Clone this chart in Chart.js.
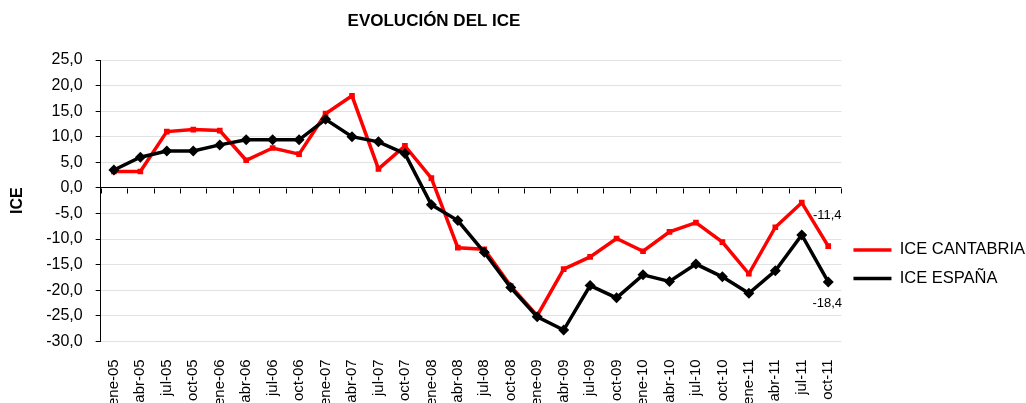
<!DOCTYPE html>
<html>
<head>
<meta charset="utf-8">
<script src="https://cdn.jsdelivr.net/npm/chart.js@4/dist/chart.umd.min.js"></script>
<style>
html, body { margin: 0; padding: 0; background: #fff; }
#wrap { width: 1026px; height: 403px; overflow: hidden; }
</style>
</head>
<body>
<div id="wrap"><canvas id="iceChart" width="1026" height="403"></canvas></div>
<script>
var quarters = ["ene-05", "abr-05", "jul-05", "oct-05", "ene-06", "abr-06", "jul-06", "oct-06",
    "ene-07", "abr-07", "jul-07", "oct-07", "ene-08", "abr-08", "jul-08", "oct-08",
    "ene-09", "abr-09", "jul-09", "oct-09", "ene-10", "abr-10", "jul-10", "oct-10",
    "ene-11", "abr-11", "jul-11", "oct-11"];
var iceCantabria = [3.2, 3.2, 11.0, 11.4, 11.2, 5.4, 7.8, 6.6, 14.5, 18.0, 3.7, 8.2,
    1.9, -11.7, -12.0, -19.2, -25.0, -15.9, -13.5, -9.9, -12.4, -8.6, -6.8, -10.6,
    -16.8, -7.7, -2.9, -11.4];
var iceEspana = [3.5, 6.0, 7.2, 7.2, 8.4, 9.4, 9.4, 9.4, 13.4, 10.0, 9.0, 6.7,
    -3.3, -6.4, -12.6, -19.5, -25.2, -27.8, -19.1, -21.5, -17.0, -18.3, -14.9, -17.4,
    -20.6, -16.2, -9.2, -18.4];
var yMin = -30;
var yMax = 25;
var yStep = 5;

var fontName = "'Liberation Sans', Arial, sans-serif";

function comma(v) {
    return v.toFixed(1).replace(".", ",");
}

// title drawn centred over the plot like the original sheet
var titlePlugin = {
    id: "sheetTitle",
    afterDraw: function (chart) {
        var ctx = chart.ctx;
        ctx.save();
        ctx.font = "bold 17px " + fontName;
        ctx.fillStyle = "#000";
        ctx.textAlign = "center";
        ctx.textBaseline = "middle";
        ctx.fillText("EVOLUCIÓN DEL ICE", 434, 21);
        ctx.restore();
    }
};

// small tick marks on the zero line, between categories
var zeroTicks = {
    id: "zeroTicks",
    beforeDatasetsDraw: function (chart) {
        var xs = chart.scales.x, ys = chart.scales.y, ctx = chart.ctx;
        var y0 = Math.round(ys.getPixelForValue(0)) + 0.5;
        var half = (xs.getPixelForValue(1) - xs.getPixelForValue(0)) / 2;
        ctx.save();
        ctx.strokeStyle = "#000";
        ctx.lineWidth = 1;
        for (var i = 0; i <= quarters.length; i++) {
            var x = Math.round(xs.getPixelForValue(i) - half) + 0.5;
            ctx.beginPath();
            ctx.moveTo(x, y0);
            ctx.lineTo(x, y0 + 5);
            ctx.stroke();
        }
        ctx.restore();
    }
};

// value labels on the last point of each series
var lastLabelOffset = [-31, 21];
var lastLabels = {
    id: "lastLabels",
    afterDatasetsDraw: function (chart) {
        var ctx = chart.ctx;
        ctx.save();
        ctx.font = "13px " + fontName;
        ctx.fillStyle = "#000";
        ctx.textAlign = "center";
        ctx.textBaseline = "middle";
        chart.data.datasets.forEach(function (ds, i) {
            var pts = chart.getDatasetMeta(i).data;
            var p = pts[pts.length - 1];
            ctx.fillText(comma(ds.data[ds.data.length - 1]), p.x - 1, p.y + lastLabelOffset[i]);
        });
        ctx.restore();
    }
};

var ctx = document.getElementById("iceChart").getContext("2d");
var iceChart = new Chart(ctx, {
    type: "line",
    data: {
        labels: quarters,
        datasets: [
            {
                label: "ICE CANTABRIA",
                data: iceCantabria,
                borderColor: "#ff0000",
                backgroundColor: "#ff0000",
                borderWidth: 3.5,
                pointStyle: "rect",
                pointRadius: 4,
                pointBorderWidth: 0,
                tension: 0,
                order: 2
            },
            {
                label: "ICE ESPAÑA",
                data: iceEspana,
                borderColor: "#000000",
                backgroundColor: "#000000",
                borderWidth: 3.5,
                pointStyle: "rectRot",
                pointRadius: 5.5,
                pointBorderWidth: 0,
                tension: 0,
                order: 1
            }
        ]
    },
    options: {
        responsive: false,
        animation: false,
        layout: {
            padding: { top: 60, left: 0, right: -9, bottom: -21 }
        },
        plugins: {
            title: { display: false },
            tooltip: { enabled: false },
            legend: {
                position: "right",
                title: {
                    display: true,
                    text: "",
                    font: { size: 12 },
                    padding: { top: 30, bottom: 0 }
                },
                labels: {
                    usePointStyle: true,
                    pointStyle: "line",
                    pointStyleWidth: 38,
                    padding: 12,
                    color: "#000",
                    font: { family: fontName, size: 16.5 },
                    sort: function (a, b) { return a.datasetIndex - b.datasetIndex; },
                    generateLabels: function (chart) {
                        var items = Chart.defaults.plugins.legend.labels.generateLabels(chart);
                        items.forEach(function (it) {
                            var ds = chart.data.datasets[it.datasetIndex];
                            it.lineWidth = ds.borderWidth;
                            it.strokeStyle = ds.borderColor;
                        });
                        return items;
                    }
                }
            }
        },
        scales: {
            x: {
                offset: true,
                grid: { display: false, drawTicks: false },
                border: { display: false },
                ticks: {
                    autoSkip: false,
                    minRotation: 90,
                    maxRotation: 90,
                    padding: 18,
                    color: "#000",
                    font: { family: fontName, size: 15 }
                }
            },
            y: {
                min: yMin,
                max: yMax,
                ticks: {
                    stepSize: yStep,
                    padding: 13,
                    color: "#000",
                    font: { family: fontName, size: 16 },
                    callback: function (v) { return comma(v); }
                },
                grid: {
                    color: function (c) { return c.tick && c.tick.value === 0 ? "#000" : "#e2e2e2"; },
                    tickColor: "#000",
                    tickLength: 5,
                    lineWidth: 1
                },
                border: { color: "#000", width: 1 },
                title: {
                    display: true,
                    text: "ICE",
                    color: "#000",
                    font: { family: fontName, size: 16, weight: "bold" },
                    padding: { top: 8, bottom: 6 }
                }
            }
        }
    },
    plugins: [titlePlugin, zeroTicks, lastLabels]
});
</script>
</body>
</html>
